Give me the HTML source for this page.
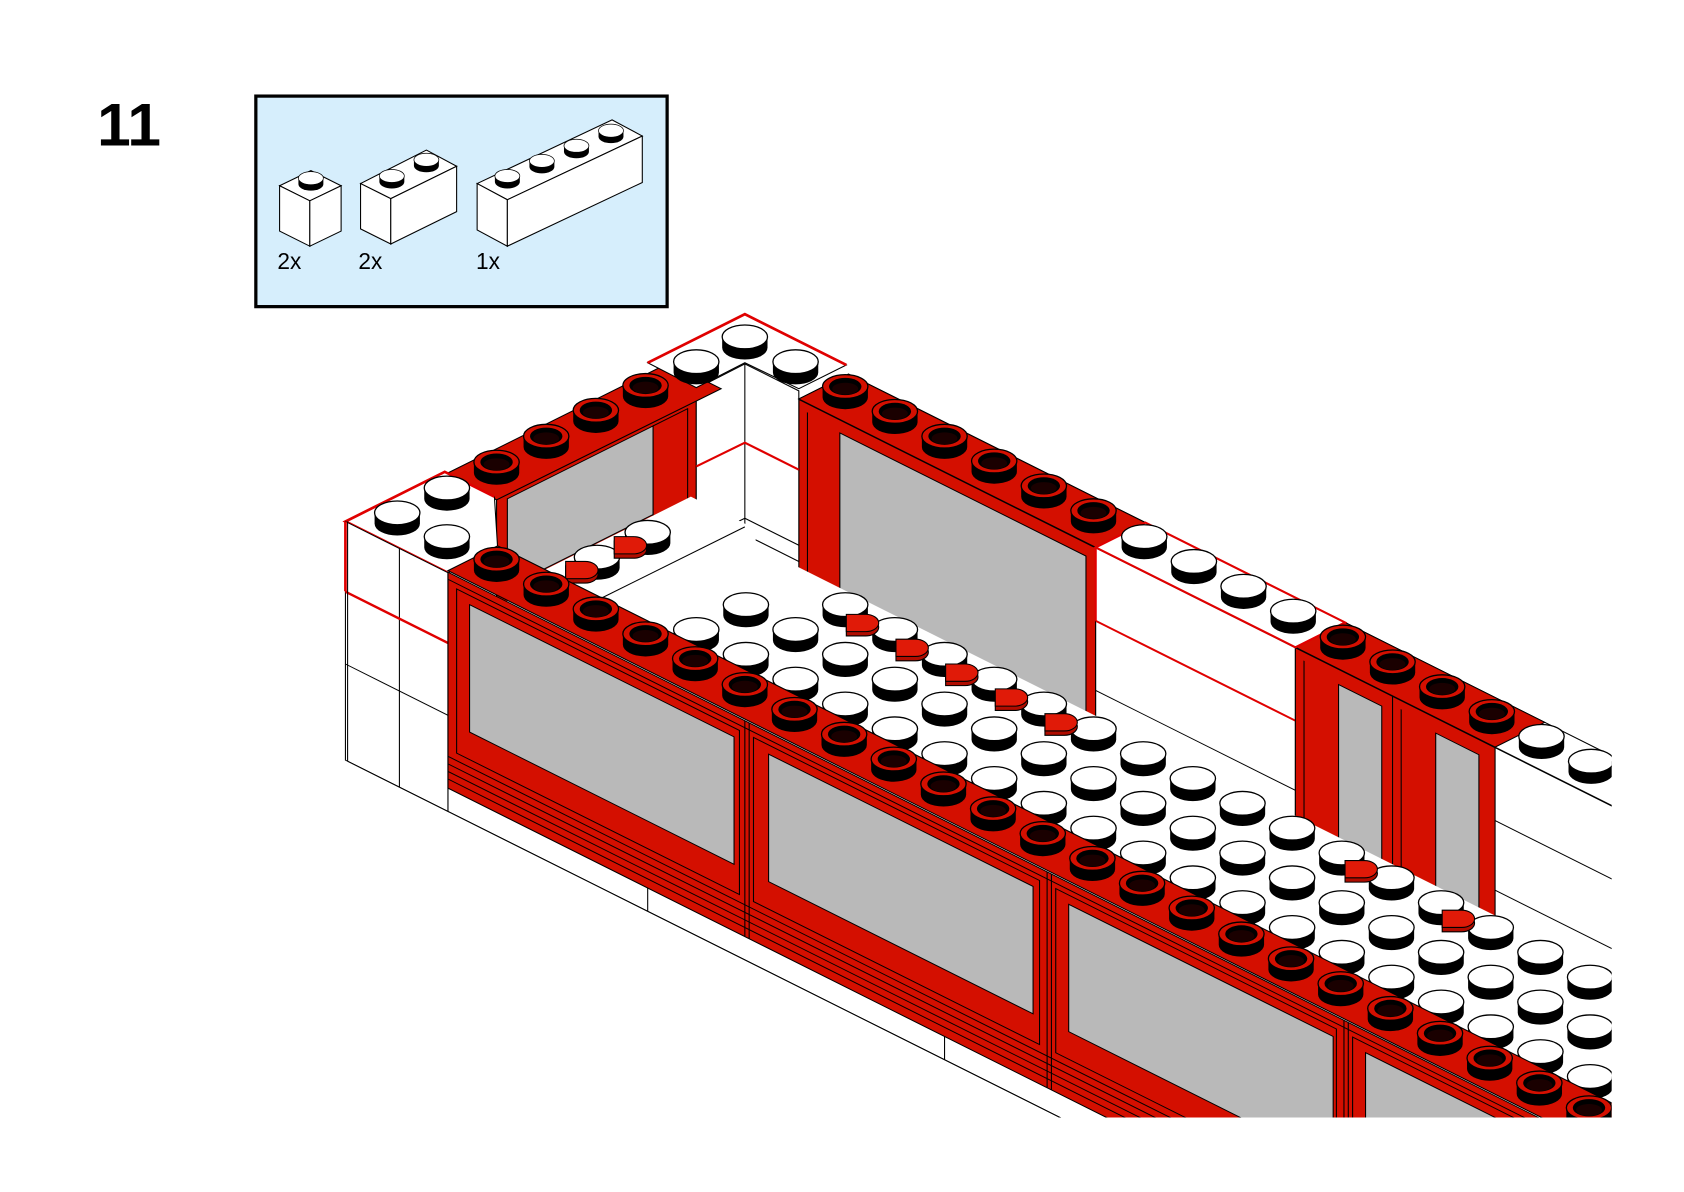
<!DOCTYPE html>
<html><head><meta charset="utf-8"><style>html,body{margin:0;padding:0;background:#fff;width:1684px;height:1192px;overflow:hidden}svg{display:block}</style></head><body>
<svg width="1684" height="1192" viewBox="0 0 1560 1104" preserveAspectRatio="none" xmlns="http://www.w3.org/2000/svg">
<defs>
<g id="ws"><path d="M-21,0 v10 a21,11 0 0 0 42,0 v-10z" fill="#000"/><ellipse rx="21" ry="11" fill="#fff" stroke="#000" stroke-width="1.2"/></g>
<g id="rs"><path d="M-21,0 v10 a21,11 0 0 0 42,0 v-10z" fill="#000"/><ellipse rx="21" ry="11" fill="#d40f00" stroke="#000" stroke-width="1.2"/><ellipse rx="15" ry="8" fill="#000"/><ellipse cy="2" rx="12" ry="5.5" fill="#1a0000"/></g>
<g id="cl"><path d="M-16,-4 h18 a12,8 0 0 1 0,16 h-18 z" fill="#b00c00" stroke="#000" stroke-width="1"/><path d="M-16,-8 h18 a12,8 0 0 1 0,16 h-18 z" fill="#e01a08" stroke="#000" stroke-width="1"/></g>
<clipPath id="cp"><rect x="0" y="0" width="1493" height="1035"/></clipPath>
</defs>

<text x="90" y="135" font-family="Liberation Sans, sans-serif" font-weight="bold" font-size="56" fill="#000">11</text>

<rect x="237" y="89" width="381" height="195" fill="#d6eefc" stroke="#000" stroke-width="3"/>
<g stroke="#000" stroke-width="1" fill="#fff">
<polygon points="259,172 288,158 316,172 287,186"/><polygon points="259,172 287,186 287,228 259,214"/><polygon points="287,186 316,172 316,214 287,228"/>
<polygon points="334,170 395,139 423,154 362,184"/><polygon points="334,170 362,184 362,226 334,212"/><polygon points="362,184 423,154 423,196 362,226"/>
<polygon points="442,170 567,111 595,126 470,185"/><polygon points="442,170 470,185 470,228 442,213"/><polygon points="470,185 595,126 595,169 470,228"/>
</g>
<g>
<use href="#ws" transform="translate(288,165) scale(.55)"/>
<use href="#ws" transform="translate(363,163) scale(.55)"/><use href="#ws" transform="translate(395,148) scale(.55)"/>
<use href="#ws" transform="translate(470,163) scale(.55)"/><use href="#ws" transform="translate(502,149) scale(.55)"/><use href="#ws" transform="translate(534,135) scale(.55)"/><use href="#ws" transform="translate(566,121) scale(.55)"/>
</g>
<g font-family="Liberation Sans, sans-serif" font-size="21" fill="#000">
<text x="257" y="249">2x</text><text x="332" y="249">2x</text><text x="441" y="249">1x</text>
</g>

<g clip-path="url(#cp)">
<g transform="matrix(1 .5 0 1 0 0)" stroke="#000" stroke-width="1">
<rect x="740" y="0" width="275" height="200" fill="#d40f00"/>
<rect x="778" y="12" width="228" height="190" fill="#b9b9b9"/>
<line x1="748" y1="8" x2="748" y2="200"/>
<rect x="1015" y="0" width="185" height="200" fill="#fff"/>
<line x1="1015" y1="67.5" x2="1200" y2="67.5" stroke="#e00000" stroke-width="2"/>
<line x1="1015" y1="132" x2="1200" y2="132"/>
<rect x="1200" y="0" width="185" height="200" fill="#d40f00"/>
<rect x="1240" y="14" width="40" height="190" fill="#b9b9b9"/>
<rect x="1330" y="14" width="40" height="190" fill="#b9b9b9"/>
<line x1="1290" y1="0" x2="1290" y2="200"/><line x1="1298" y1="8" x2="1298" y2="200"/><line x1="1208" y1="8" x2="1208" y2="200"/>
<rect x="1385" y="0" width="250" height="200" fill="#fff"/>
<line x1="1385" y1="67.5" x2="1635" y2="67.5"/><line x1="1385" y1="132" x2="1635" y2="132"/>
</g>
<g transform="matrix(1 -.5 0 1 0 0)" stroke="#000" stroke-width="1">
<rect x="460" y="691" width="185" height="120" fill="#d40f00"/>
<rect x="470" y="697" width="135" height="82" fill="#b9b9b9"/>
<rect x="605" y="697" width="32" height="112" fill="#d40f00"/>
</g>
<polygon points="645,360 690,337 740,362 740,520 690,495 645,518" fill="#fff" stroke="#000" stroke-width="1"/>
<line x1="690" y1="337" x2="690" y2="495" stroke="#000"/>
<polyline points="645,432 690,410 740,435" fill="none" stroke="#e00000" stroke-width="2"/>
<polyline points="645,502 690,480 740,505" fill="none" stroke="#000"/>
<polygon points="470,545 640,460 700,490 700,530 560,600 470,560" fill="#fff"/>
<line x1="555" y1="555" x2="690" y2="488" stroke="#000"/>
<use href="#ws" x="600" y="493"/><use href="#ws" x="553" y="516"/>
<use href="#cl" x="585" y="505"/><use href="#cl" x="540" y="528"/>
<polygon points="728,519.5 1600,955.5 1600,1100 608,579" fill="#fff"/>
<g>
<use href="#ws" x="783" y="560"/><use href="#ws" x="829" y="583"/><use href="#ws" x="875" y="606"/><use href="#ws" x="921" y="629"/><use href="#ws" x="967" y="652"/><use href="#ws" x="1013" y="675"/><use href="#ws" x="1059" y="698"/><use href="#ws" x="1105" y="721"/><use href="#ws" x="1151" y="744"/><use href="#ws" x="1197" y="767"/><use href="#ws" x="1243" y="790"/><use href="#ws" x="1289" y="813"/><use href="#ws" x="1335" y="836"/><use href="#ws" x="1381" y="859"/><use href="#ws" x="1427" y="882"/><use href="#ws" x="1473" y="905"/>
<use href="#cl" x="800" y="577"/><use href="#cl" x="846" y="600"/><use href="#cl" x="892" y="623"/><use href="#cl" x="938" y="646"/><use href="#cl" x="984" y="669"/><use href="#cl" x="1262" y="805"/><use href="#cl" x="1352" y="851"/>
<use href="#ws" x="691" y="560"/><use href="#ws" x="737" y="583"/><use href="#ws" x="783" y="606"/><use href="#ws" x="829" y="629"/><use href="#ws" x="875" y="652"/><use href="#ws" x="921" y="675"/><use href="#ws" x="967" y="698"/><use href="#ws" x="1013" y="721"/><use href="#ws" x="1059" y="744"/><use href="#ws" x="1105" y="767"/><use href="#ws" x="1151" y="790"/><use href="#ws" x="1197" y="813"/><use href="#ws" x="1243" y="836"/><use href="#ws" x="1289" y="859"/><use href="#ws" x="1335" y="882"/><use href="#ws" x="1381" y="905"/><use href="#ws" x="1427" y="928"/><use href="#ws" x="1473" y="951"/>
<use href="#ws" x="645" y="583"/><use href="#ws" x="691" y="606"/><use href="#ws" x="737" y="629"/><use href="#ws" x="783" y="652"/><use href="#ws" x="829" y="675"/><use href="#ws" x="875" y="698"/><use href="#ws" x="921" y="721"/><use href="#ws" x="967" y="744"/><use href="#ws" x="1013" y="767"/><use href="#ws" x="1059" y="790"/><use href="#ws" x="1105" y="813"/><use href="#ws" x="1151" y="836"/><use href="#ws" x="1197" y="859"/><use href="#ws" x="1243" y="882"/><use href="#ws" x="1289" y="905"/><use href="#ws" x="1335" y="928"/><use href="#ws" x="1381" y="951"/><use href="#ws" x="1427" y="974"/><use href="#ws" x="1473" y="997"/>
</g>
<polygon points="415,438 620,336 668,360 460,463" fill="#d40f00" stroke="#000" stroke-width="1"/>
<polygon points="600,336 690,291 784,338 740,360 690,336 645,359" fill="#fff" stroke="#000" stroke-width="1"/>
<polyline points="600,336 690,291 784,338" fill="none" stroke="#e00000" stroke-width="2.5"/>
<polygon points="740,369.5 786,346.5 1660,783.5 1614,806.5" fill="#fff" stroke="#000" stroke-width="1"/>
<polygon points="740,369.5 786,346.5 1061,484 1015,507" fill="#d40f00" stroke="#000" stroke-width="1"/>
<polygon points="1200,599.5 1246,576.5 1431,669 1385,692" fill="#d40f00" stroke="#000" stroke-width="1"/>
<polygon points="1015,507 1061,484 1246,576.5 1200,599.5" fill="none" stroke="#e00000" stroke-width="2"/>
<line x1="1015" y1="507" x2="1015" y2="575" stroke="#e00000" stroke-width="2"/>
<use href="#rs" x="460" y="428"/><use href="#rs" x="506" y="404"/><use href="#rs" x="552" y="380"/><use href="#rs" x="598" y="357"/>
<use href="#ws" x="690" y="312"/><use href="#ws" x="645" y="335"/><use href="#ws" x="737" y="335"/>
<use href="#rs" x="783" y="358"/><use href="#rs" x="829" y="381"/><use href="#rs" x="875" y="404"/><use href="#rs" x="921" y="427"/><use href="#rs" x="967" y="450"/><use href="#rs" x="1013" y="473"/>
<use href="#ws" x="1060" y="497"/><use href="#ws" x="1106" y="520"/><use href="#ws" x="1152" y="543"/><use href="#ws" x="1198" y="566"/>
<use href="#rs" x="1244" y="590"/><use href="#rs" x="1290" y="613"/><use href="#rs" x="1336" y="636"/><use href="#rs" x="1382" y="659"/>
<use href="#ws" x="1428" y="682"/><use href="#ws" x="1474" y="705"/>

<polygon points="320,483 412,437 458,460 461,507.5 415,530.5" fill="#fff" stroke="#000" stroke-width="1"/>
<polyline points="415,530.5 320,483 412,437 458,460" fill="none" stroke="#e00000" stroke-width="2.5"/>
<g transform="matrix(1 .5 0 1 0 0)" stroke="#000" stroke-width="1">
<rect x="320" y="323" width="95" height="221" fill="#fff"/>
<line x1="370" y1="323" x2="370" y2="544"/>
<line x1="320" y1="455" x2="415" y2="455"/>
<line x1="320" y1="388" x2="415" y2="388" stroke="#e00000" stroke-width="2.5"/>
<line x1="320" y1="323" x2="320" y2="388" stroke="#e00000" stroke-width="2.5"/>
</g>
<use href="#ws" x="414" y="452"/><use href="#ws" x="368" y="475"/><use href="#ws" x="414" y="497"/>

<polygon points="415,528.5 461,505.5 1660,1105 1614,1128" fill="#d40f00" stroke="#000" stroke-width="1"/>
<g transform="matrix(1 .5 0 1 0 0)" stroke="#000" stroke-width="1">
<rect x="415" y="322.5" width="1200" height="200" fill="#d40f00"/>
<rect x="415" y="522.5" width="1200" height="21.5" fill="#fff"/>
<line x1="322" y1="544" x2="1615" y2="544"/>
<line x1="600" y1="522.5" x2="600" y2="544"/><line x1="875" y1="522.5" x2="875" y2="544"/>
<line x1="415" y1="329" x2="1615" y2="329"/>
<g fill="none">
<rect x="423" y="334" width="262" height="152"/><rect x="435" y="342.5" width="245" height="118" fill="#b9b9b9"/>
<rect x="698" y="334" width="265" height="152"/><rect x="712" y="342.5" width="245" height="118" fill="#b9b9b9"/>
<rect x="978" y="334" width="260" height="152"/><rect x="990" y="342.5" width="245" height="118" fill="#b9b9b9"/>
<rect x="1253" y="334" width="260" height="152"/><rect x="1265" y="342.5" width="245" height="118" fill="#b9b9b9"/>
</g>
<line x1="415" y1="493" x2="1615" y2="493"/><line x1="415" y1="500" x2="1615" y2="500"/><line x1="415" y1="507" x2="1615" y2="507"/><line x1="415" y1="514" x2="1615" y2="514"/>
<line x1="415" y1="322.5" x2="415" y2="522.5"/>
<line x1="690" y1="322.5" x2="690" y2="522.5"/><line x1="694" y1="322.5" x2="694" y2="522.5"/>
<line x1="970" y1="322.5" x2="970" y2="522.5"/><line x1="974" y1="322.5" x2="974" y2="522.5"/>
<line x1="1245" y1="322.5" x2="1245" y2="522.5"/><line x1="1249" y1="322.5" x2="1249" y2="522.5"/>
</g>
<line x1="322" y1="705" x2="322" y2="483" stroke="#000"/>
<use href="#rs" x="460" y="518"/><use href="#rs" x="506" y="541"/><use href="#rs" x="552" y="564"/><use href="#rs" x="598" y="587"/><use href="#rs" x="644" y="610"/><use href="#rs" x="690" y="634"/><use href="#rs" x="736" y="657"/><use href="#rs" x="782" y="680"/><use href="#rs" x="828" y="703"/><use href="#rs" x="874" y="726"/><use href="#rs" x="920" y="749"/><use href="#rs" x="966" y="772"/><use href="#rs" x="1012" y="795"/><use href="#rs" x="1058" y="818"/><use href="#rs" x="1104" y="841"/><use href="#rs" x="1150" y="865"/><use href="#rs" x="1196" y="888"/><use href="#rs" x="1242" y="911"/><use href="#rs" x="1288" y="934"/><use href="#rs" x="1334" y="957"/><use href="#rs" x="1380" y="980"/><use href="#rs" x="1426" y="1003"/><use href="#rs" x="1472" y="1026"/>
</g>
</svg>
</body></html>
